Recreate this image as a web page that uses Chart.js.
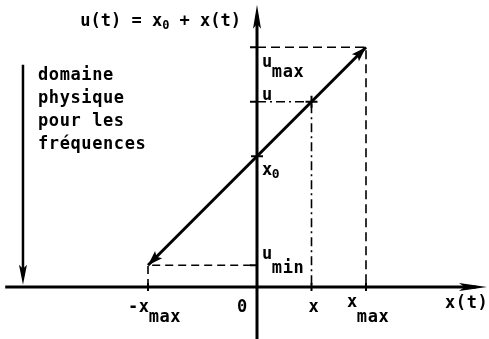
<!DOCTYPE html>
<html>
<head>
<meta charset="utf-8">
<script src="https://cdn.jsdelivr.net/npm/chart.js@4"></script>
<style>
  html, body { margin: 0; padding: 0; background: #fff; }
  #wrap { width: 489px; height: 339px; }
</style>
</head>
<body>
<div id="wrap"><canvas id="chart" width="489" height="339"></canvas></div>
<script>
// abscissa marks: -x_max, 0, x, x_max
const xPoints = [-1, 0, 0.5, 1];
// ordinates on the line u = x0 + x at those abscissas: u_min, x0, u, u_max
const uPoints = [0.2, 1.2, 1.7, 2.2];
const xTickText = [['-x', 'max'], ['0', ''], ['x', ''], ['x', 'max']];
const uTickText = [['u', 'min'], ['x', '0'], ['u', ''], ['u', 'max']];
const yTitle = [['u(t) = x', ''], ['', '0'], [' + x(t)', '']];
const xTitle = 'x(t)';
const domainText = ['domaine', 'physique', 'pour les', 'fréquences'];

// axis extents, in data units
const xAxisFrom = -2.31, xAxisTo = 2.11;
const yAxisFrom = -0.5, yAxisTo = 2.59;
const domainX = -2.147, domainTop = 2.04;

const FONT = '"DejaVu Sans Mono", monospace';
const WEIGHT = 'bold ';
const INK = '#000';

const pt = (x, y) => ({x, y});
const mainLine = xPoints.map((x, i) => pt(x, uPoints[i]));
const guideMin = [pt(xPoints[0], 0), pt(xPoints[0], uPoints[0]), pt(0, uPoints[0])];
const guideMax = [pt(0, uPoints[3]), pt(xPoints[3], uPoints[3]), pt(xPoints[3], 0)];
const guideU = [pt(0, uPoints[2]), pt(xPoints[2], uPoints[2]), pt(xPoints[2], 0)];

function lineSet(data, width, dash) {
  return {
    type: 'scatter', data, showLine: true, borderColor: INK, backgroundColor: INK,
    borderWidth: width, borderDash: dash || [], pointRadius: 0, tension: 0
  };
}

function arrowHead(ctx, x1, y1, x2, y2, len, half) {
  const a = Math.atan2(y2 - y1, x2 - x1);
  ctx.save();
  ctx.translate(x2, y2);
  ctx.rotate(a);
  ctx.beginPath();
  ctx.moveTo(0, 0);
  ctx.lineTo(-len, -half);
  ctx.lineTo(-len * 0.8, 0);
  ctx.lineTo(-len, half);
  ctx.closePath();
  ctx.fillStyle = INK;
  ctx.fill();
  ctx.restore();
}

// main text followed by a lowered index
function label(ctx, x, y, main, sub, subDrop, subSize) {
  ctx.font = WEIGHT + '17px ' + FONT;
  ctx.letterSpacing = '0.6px';
  ctx.fillText(main, x, y);
  const w = main ? ctx.measureText(main).width - 1 : 0;
  if (sub) {
    ctx.font = WEIGHT + (subSize || 17) + 'px ' + FONT;
    ctx.fillText(sub, x + w, y + subDrop);
  }
}

const decor = {
  id: 'decor',
  afterDatasetsDraw(chart) {
    const {ctx, scales: {x: sx, y: sy}} = chart;
    const X = v => sx.getPixelForValue(v), Y = v => sy.getPixelForValue(v);
    ctx.save();
    ctx.fillStyle = INK;
    ctx.strokeStyle = INK;

    // arrow heads
    arrowHead(ctx, X(0), Y(0), X(xAxisTo), Y(0), 28, 4);
    arrowHead(ctx, X(0), Y(0), X(0), Y(yAxisTo), 24, 4);
    arrowHead(ctx, X(domainX), Y(domainTop), X(domainX), Y(0.02), 20, 4);
    arrowHead(ctx, X(xPoints[1]), Y(uPoints[1]), X(xPoints[3]), Y(uPoints[3]), 15, 5);
    arrowHead(ctx, X(xPoints[1]), Y(uPoints[1]), X(xPoints[0]), Y(uPoints[0]), 15, 5);

    // ticks on the axes
    ctx.lineWidth = 2;
    ctx.beginPath();
    [0, 2, 3].forEach(i => {
      ctx.moveTo(X(xPoints[i]), Y(0) - 4);
      ctx.lineTo(X(xPoints[i]), Y(0) + 4);
    });
    [0, 2, 3].forEach(i => {
      ctx.moveTo(X(0) - 7, Y(uPoints[i]));
      ctx.lineTo(X(0), Y(uPoints[i]));
    });
    // small crosses on the line at x0 and u
    [1, 2].forEach(i => {
      const px = X(xPoints[i]), py = Y(uPoints[i]);
      ctx.moveTo(px - 6, py); ctx.lineTo(px + 6, py);
      ctx.moveTo(px, py - 6); ctx.lineTo(px, py + 6);
    });
    ctx.stroke();

    ctx.textBaseline = 'alphabetic';
    ctx.textAlign = 'left';

    // vertical axis title, ending just left of the axis
    ctx.letterSpacing = '0px';
    const parts = yTitle.map(([main, sub]) => {
      ctx.font = WEIGHT + (main ? '17px ' : '12px ') + FONT;
      return { text: main || sub, small: !main, w: ctx.measureText(main || sub).width };
    });
    let tx = X(0) - 16 - parts.reduce((s, p) => s + p.w, 0);
    parts.forEach(p => {
      ctx.font = WEIGHT + (p.small ? '12px ' : '17px ') + FONT;
      ctx.fillText(p.text, tx, p.small ? 29 : 26);
      tx += p.w;
    });
    label(ctx, X(xAxisTo) - 42, Y(0) + 21, xTitle, '');

    // abscissa labels
    const xo = [-20, -20, -3, -19];
    const xb = [25, 25, 25, 20];
    const xs = [10, 0, 0, 15];
    xTickText.forEach(([main, sub], i) => {
      label(ctx, X(xPoints[i]) + xo[i], Y(0) + xb[i], main, sub, xs[i]);
    });

    // ordinate labels, right of the vertical axis
    const uo = [-6, 19, -2, 20];
    const us = [14, 3, 0, 10];
    uTickText.forEach(([main, sub], i) => {
      label(ctx, X(0) + 5, Y(uPoints[i]) + uo[i], main, sub, us[i], i === 1 ? 13 : 17);
    });

    // note beside the left arrow
    domainText.forEach((t, i) => {
      label(ctx, X(domainX) + 15, 80 + i * 23, t, '');
    });
    ctx.restore();
  }
};

new Chart(document.getElementById('chart'), {
  type: 'scatter',
  data: {
    datasets: [
      lineSet([pt(xAxisFrom, 0), pt(xAxisTo - 0.1, 0)], 3),
      lineSet([pt(0, yAxisFrom), pt(0, yAxisTo - 0.1)], 3),
      lineSet([pt(domainX, domainTop), pt(domainX, 0.1)], 2.5),
      lineSet(mainLine, 3),
      lineSet(guideMin, 1.6, [8, 5]),
      lineSet(guideMax, 1.6, [9, 5]),
      lineSet(guideU, 1.6, [9, 4, 2, 4])
    ]
  },
  options: {
    responsive: false,
    animation: false,
    devicePixelRatio: 1,
    layout: { padding: 0 },
    plugins: { legend: { display: false }, tooltip: { enabled: false } },
    scales: {
      x: { type: 'linear', display: false, min: -257 / 109, max: 232 / 109 },
      y: { type: 'linear', display: false, min: -52 / 109, max: 287 / 109 }
    }
  },
  plugins: [decor]
});
</script>
</body>
</html>
